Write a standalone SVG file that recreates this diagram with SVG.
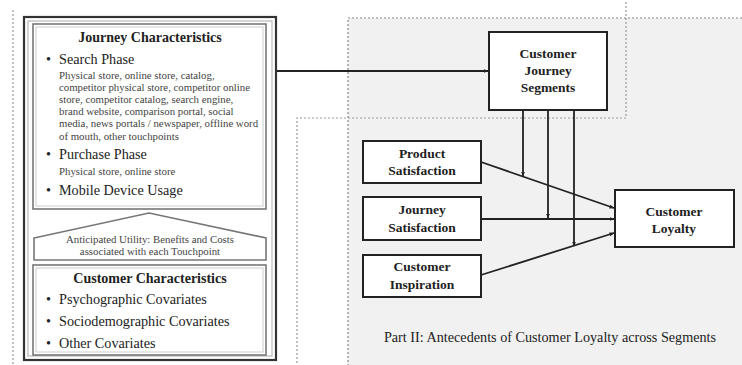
<svg xmlns="http://www.w3.org/2000/svg" width="742" height="365" viewBox="0 0 742 365">
  <style>
    .bg { fill: #ffffff; }
    .region { fill: #f1f1f1; stroke: #888; stroke-width: 1.2; stroke-dasharray: 2 2; }
    .dash { fill: none; stroke: #999; stroke-width: 1.2; stroke-dasharray: 2 2; }
    .node { fill: #ffffff; stroke: #222; stroke-width: 2; }
    .outer { fill: #ffffff; stroke: #333; stroke-width: 2.2; }
    .outer2 { fill: none; stroke: #aaa; stroke-width: 1; }
    .inner { fill: #ffffff; stroke: #777; stroke-width: 1.6; }
    .inner2 { fill: none; stroke: #ccc; stroke-width: 1; }
    .edge { fill: none; stroke: #222; stroke-width: 1.8; }
    .label { font-family: "Liberation Serif", "Times New Roman", serif; fill: #222; }
    .b { font-weight: bold; }
    .t13 { font-size: 14.2px; }
    .t14 { font-size: 14px; }
    .small { font-size: 10.8px; fill: #444; }
    .nodetext { font-size: 13.5px; font-weight: bold; text-anchor: middle; }
    .mid { text-anchor: middle; }
  </style>
  <defs>
    <marker id="arrow" viewBox="0 0 10 10" refX="9" refY="5" markerWidth="5" markerHeight="5" orient="auto" markerUnits="userSpaceOnUse">
      <path d="M0,1 L10,5 L0,9 z" fill="#222"/>
    </marker>
  </defs>

  <rect class="bg" x="0" y="0" width="742" height="365"/>

  <!-- Part II area -->
  <g id="part2">
    <rect class="region" x="348" y="18" width="400" height="360"/>
    <text class="label mid" x="550" y="342" font-size="14.2" fill="#555">Part II: Antecedents of Customer Loyalty across Segments</text>
  </g>

  <!-- Part I outline -->
  <g id="part1">
    <path class="dash" d="M13,10 V365"/>
    <path class="dash" d="M626,2 V118 H297 V365"/>
  </g>

  <!-- Left panel: journey and customer characteristics -->
  <g id="characteristics">
    <rect class="outer" x="24" y="17" width="252" height="343"/>
    <rect class="outer2" x="28" y="21" width="244" height="335"/>

    <g id="journey-characteristics">
      <rect class="inner" x="33" y="24" width="233" height="185"/>
      <rect class="inner2" x="36" y="27" width="227" height="179"/>
      <text class="label b t14 mid" x="150" y="42">Journey Characteristics</text>
      <text class="label t13" x="46" y="64">•</text>
      <text class="label t13" x="59" y="64">Search Phase</text>
      <text class="label small" x="59" y="79">Physical store, online store, catalog,</text>
      <text class="label small" x="59" y="91">competitor physical store, competitor online</text>
      <text class="label small" x="59" y="103">store, competitor catalog, search engine,</text>
      <text class="label small" x="59" y="115">brand website, comparison portal, social</text>
      <text class="label small" x="59" y="127">media, news portals / newspaper, offline word</text>
      <text class="label small" x="59" y="140">of mouth, other touchpoints</text>
      <text class="label t13" x="46" y="159">•</text>
      <text class="label t13" x="59" y="159">Purchase Phase</text>
      <text class="label small" x="59" y="175">Physical store, online store</text>
      <text class="label t13" x="46" y="195">•</text>
      <text class="label t13" x="59" y="195">Mobile Device Usage</text>
    </g>

    <g id="anticipated-utility">
      <polygon class="inner" points="34,238 149,213 266,238 266,260 34,260"/>
      <text class="label small mid" x="150" y="243">Anticipated Utility: Benefits and Costs</text>
      <text class="label small mid" x="150" y="255">associated with each Touchpoint</text>
    </g>

    <g id="customer-characteristics">
      <rect class="inner" x="33" y="265" width="233" height="90"/>
      <rect class="inner2" x="36" y="268" width="227" height="84"/>
      <text class="label b t14 mid" x="150" y="283">Customer Characteristics</text>
      <text class="label t13" x="46" y="304">•</text>
      <text class="label t13" x="59" y="304">Psychographic Covariates</text>
      <text class="label t13" x="46" y="326">•</text>
      <text class="label t13" x="59" y="326">Sociodemographic Covariates</text>
      <text class="label t13" x="46" y="348">•</text>
      <text class="label t13" x="59" y="348">Other Covariates</text>
    </g>
  </g>

  <!-- Connectors -->
  <g id="connectors">
    <line class="edge" x1="277" y1="71" x2="488" y2="71" marker-end="url(#arrow)"/>
    <line class="edge" x1="481" y1="162" x2="614" y2="208" marker-end="url(#arrow)"/>
    <line class="edge" x1="481" y1="219" x2="614" y2="219" marker-end="url(#arrow)"/>
    <line class="edge" x1="481" y1="275" x2="614" y2="233" marker-end="url(#arrow)"/>
    <line class="edge" x1="523" y1="110" x2="523" y2="176" marker-end="url(#arrow)"/>
    <line class="edge" x1="548" y1="110" x2="548" y2="218" marker-end="url(#arrow)"/>
    <line class="edge" x1="574" y1="110" x2="574" y2="246" marker-end="url(#arrow)"/>
  </g>

  <!-- Nodes -->
  <g id="customer-journey-segments">
    <rect class="node" x="489" y="32" width="118" height="78"/>
    <text class="label nodetext" x="548" y="58">Customer</text>
    <text class="label nodetext" x="548" y="75">Journey</text>
    <text class="label nodetext" x="548" y="92">Segments</text>
  </g>
  <g id="product-satisfaction">
    <rect class="node" x="363" y="141" width="118" height="42"/>
    <text class="label nodetext" x="422" y="158">Product</text>
    <text class="label nodetext" x="422" y="175">Satisfaction</text>
  </g>
  <g id="journey-satisfaction">
    <rect class="node" x="363" y="197" width="118" height="43"/>
    <text class="label nodetext" x="422" y="214">Journey</text>
    <text class="label nodetext" x="422" y="232">Satisfaction</text>
  </g>
  <g id="customer-inspiration">
    <rect class="node" x="363" y="255" width="118" height="42"/>
    <text class="label nodetext" x="422" y="271">Customer</text>
    <text class="label nodetext" x="422" y="289">Inspiration</text>
  </g>
  <g id="customer-loyalty">
    <rect class="node" x="615" y="190" width="119" height="57"/>
    <text class="label nodetext" x="674" y="216">Customer</text>
    <text class="label nodetext" x="674" y="233">Loyalty</text>
  </g>
</svg>
